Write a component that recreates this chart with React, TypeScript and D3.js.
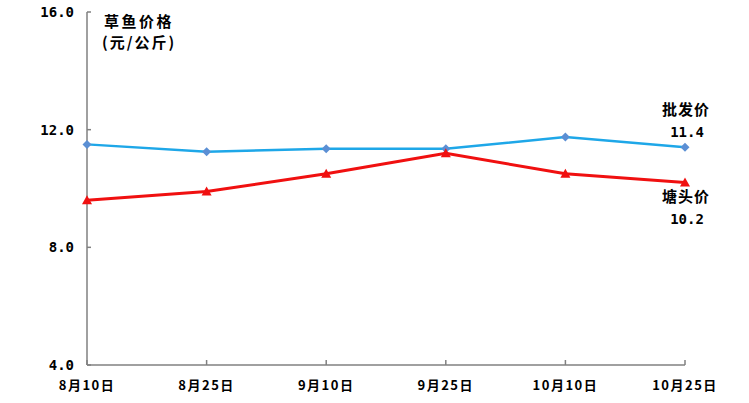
import React from "react";
import * as d3 from "d3";

const categories = ["8月10日", "8月25日", "9月10日", "9月25日", "10月10日", "10月25日"];
const wholesale = [11.5, 11.25, 11.35, 11.35, 11.75, 11.4];
const pond = [9.6, 9.9, 10.5, 11.2, 10.5, 10.2];
const yTicks = [4, 8, 12, 16];

export default function App() {
  const W = 749, H = 403;
  const x = d3.scalePoint<string>().domain(categories).range([87, 685]);
  const y = d3.scaleLinear().domain([4, 16]).range([365, 12]);
  const line = d3.line<number>().x((_, i) => x(categories[i])!).y((d) => y(d));
  const font = "'Noto Sans CJK SC', sans-serif";
  const mono = "'DejaVu Sans Mono', 'Noto Sans CJK SC', monospace";
  const axisColor = "#808080";
  const last = categories.length - 1;
  const lx = x(categories[last])!;
  return (
    <svg width={W} height={H} style={{ position: "absolute", left: 0, top: 0 }} fontFamily={font}>
      <rect width={W} height={H} fill="#fff" />
      {/* y axis */}
      <line x1={87} x2={87} y1={y(16)} y2={y(4)} stroke={axisColor} strokeWidth={1.5} />
      {yTicks.map((t) => (
        <g key={t}>
          <line x1={87} x2={91} y1={y(t)} y2={y(t)} stroke={axisColor} strokeWidth={1.5} />
          <text x={74} y={y(t)} dy="0.35em" textAnchor="end" fontSize={14} fontWeight="bold" fontFamily={mono} fill="#000">
            {t.toFixed(1)}
          </text>
        </g>
      ))}
      {/* x axis */}
      <line x1={87} x2={lx} y1={y(4)} y2={y(4)} stroke={axisColor} strokeWidth={1.5} />
      {categories.map((c) => (
        <g key={c}>
          <line x1={x(c)!} x2={x(c)!} y1={y(4)} y2={y(4) - 5} stroke={axisColor} strokeWidth={1.5} />
          <text x={x(c)!} y={385} dy="0.35em" textAnchor="middle" fontSize={13} fontWeight="bold" letterSpacing={1.5} fill="#000">
            {c}
          </text>
        </g>
      ))}
      {/* lines */}
      <path d={line(wholesale)!} fill="none" stroke="#1ea7e8" strokeWidth={2.5} />
      {wholesale.map((v, i) => {
        const cx = x(categories[i])!, cy = y(v);
        return <path key={i} d={`M${cx},${cy - 4.5}L${cx + 4.5},${cy}L${cx},${cy + 4.5}L${cx - 4.5},${cy}Z`} fill="#5b8fd4" />;
      })}
      <path d={line(pond)!} fill="none" stroke="#f01010" strokeWidth={3} />
      {pond.map((v, i) => {
        const cx = x(categories[i])!, cy = y(v);
        return <path key={i} d={`M${cx},${cy - 5}L${cx + 5},${cy + 4}L${cx - 5},${cy + 4}Z`} fill="#f01010" />;
      })}
      {/* title */}
      <text x={104} y={22} dy="0.35em" fontSize={15} fontWeight="bold" letterSpacing={2.5} fill="#000">草鱼价格</text>
      <text x={102} y={43} dy="0.35em" fontSize={15} fontWeight="bold" letterSpacing={2} fill="#000">(元/公斤)</text>
      {/* series labels */}
      <text x={lx + 1} y={110} dy="0.35em" textAnchor="middle" fontSize={15} fontWeight="bold" letterSpacing={1} fill="#000">批发价</text>
      <text x={lx + 2} y={132} dy="0.35em" textAnchor="middle" fontSize={14} fontWeight="bold" fontFamily={mono} fill="#000">{wholesale[last].toFixed(1)}</text>
      <text x={lx + 1} y={197} dy="0.35em" textAnchor="middle" fontSize={15} fontWeight="bold" letterSpacing={1} fill="#000">塘头价</text>
      <text x={lx + 2} y={219} dy="0.35em" textAnchor="middle" fontSize={14} fontWeight="bold" fontFamily={mono} fill="#000">{pond[last].toFixed(1)}</text>
    </svg>
  );
}
